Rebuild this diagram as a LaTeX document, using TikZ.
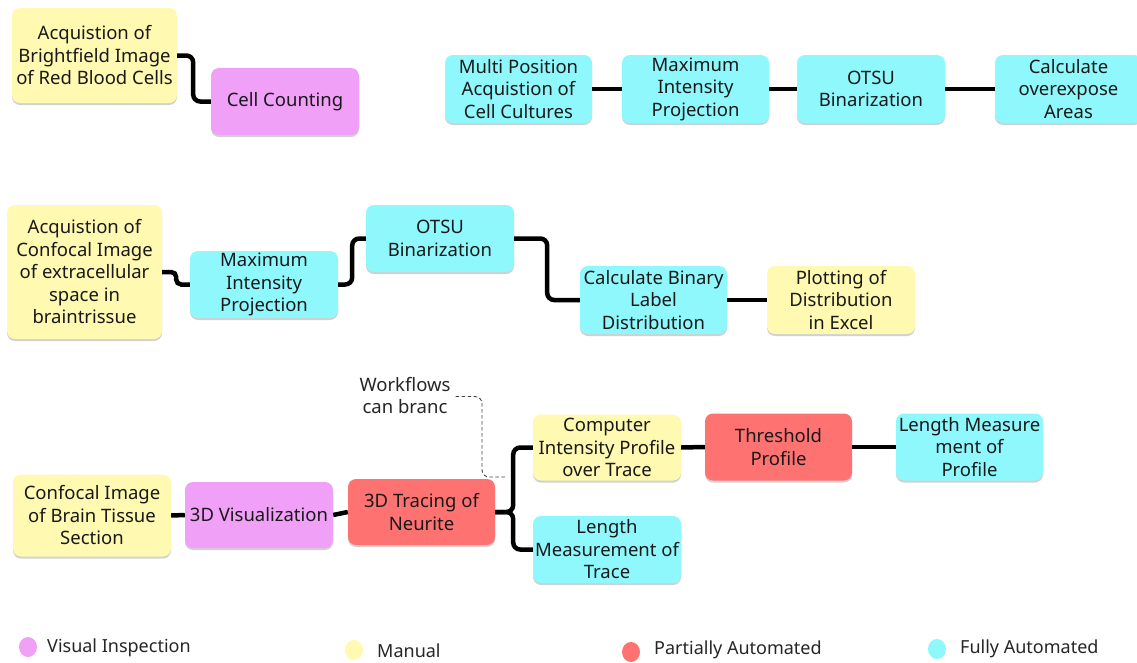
\documentclass[tikz,border=0pt]{standalone}
\usepackage{fontspec}
\setmainfont{Noto Sans}
\usetikzlibrary{shadows,shapes.geometric}
\definecolor{manual}{HTML}{FFF9B1}
\definecolor{visual}{HTML}{F1A0F8}
\definecolor{partial}{HTML}{FF7272}
\definecolor{fully}{HTML}{8FF8FC}
\definecolor{notegray}{HTML}{444444}
\tikzset{
  card/.style={rounded corners=8pt, align=center, inner sep=0pt,
    font=\fontsize{18.5}{22.5}\selectfont, text=black!90,
    drop shadow={shadow xshift=0pt, shadow yshift=-2pt, opacity=0.18, fill=black}},
  man/.style={card, fill=manual},
  vis/.style={card, fill=visual},
  part/.style={card, fill=partial},
  full/.style={card, fill=fully},
  conn/.style={line width=4.5pt, black, rounded corners=7pt},
  notelink/.style={line width=0.9pt, notegray, dash pattern=on 3.5pt off 2.5pt, rounded corners=7pt},
  legdot/.style={ellipse, minimum width=18pt, minimum height=20pt, inner sep=0pt},
  legtext/.style={anchor=west, font=\fontsize{18}{20}\selectfont, text=black!85, inner sep=0pt},
}
\begin{document}
\begin{tikzpicture}[x=1pt, y=-1pt]
\useasboundingbox[fill=white] (0,0) rectangle (1137,662);

% red blood cell counting
\node[man, minimum width=165pt, minimum height=95pt] (rbc) at (94.5,55.5)
  {Acquistion of\\Brightfield Image\\of Red Blood Cells};
\node[vis, minimum width=148pt, minimum height=67pt] (count) at (285,101.5) {Cell Counting};
\draw[conn] (rbc.east) -- ++(16,0) |- (count.west);

% overexposure of cell cultures
\node[full, minimum width=147pt, minimum height=68pt] (multi) at (518.5,89)
  {Multi Position\\Acquistion of\\Cell Cultures};
\node[full, minimum width=147pt, minimum height=68pt] (mipA) at (695.5,89)
  {Maximum\\Intensity\\Projection};
\node[full, minimum width=148pt, minimum height=68pt] (otsuA) at (871,89)
  {OTSU\\Binarization};
\node[full, minimum width=147pt, minimum height=68pt] (over) at (1068.5,89)
  {Calculate\\overexpose\\Areas};
\draw[conn] (multi.east) -- (mipA.west);
\draw[conn] (mipA.east) -- (otsuA.west);
\draw[conn] (otsuA.east) -- (over.west);

% extracellular space
\node[man, minimum width=155pt, minimum height=134pt] (ecs) at (84.5,272)
  {Acquistion of\\Confocal Image\\of extracellular\\space in\\braintrissue};
\node[full, minimum width=148pt, minimum height=67pt] (mipB) at (264,284.5)
  {Maximum\\Intensity\\Projection};
\node[full, minimum width=148pt, minimum height=67pt] (otsuB) at (440,238.5)
  {OTSU\\Binarization};
\node[full, minimum width=147pt, minimum height=68pt] (label) at (653.5,300)
  {Calculate Binary\\Label\\Distribution};
\node[man, minimum width=148pt, minimum height=68pt] (excel) at (841,300)
  {Plotting of\\Distribution\\in Excel};
\draw[conn, rounded corners=5pt] (ecs.east) -- ++(14,0) |- (mipB.west);
\draw[conn] (mipB.east) -- ++(14,0) |- (otsuB.west);
\draw[conn] (otsuB.east) -- ++(33,0) |- (label.west);
\draw[conn] (label.east) -- (excel.west);

% neurite tracing
\node[man, minimum width=158pt, minimum height=82pt] (brain) at (92,515.5)
  {Confocal Image\\of Brain Tissue\\Section};
\node[vis, minimum width=148pt, minimum height=66pt] (view) at (259,515)
  {3D Visualization};
\node[part, minimum width=147pt, minimum height=66pt] (trace) at (421.5,512)
  {3D Tracing of\\Neurite};
\node[man, minimum width=148pt, minimum height=66pt] (profile) at (607,447.5)
  {Computer\\Intensity Profile\\over Trace};
\node[part, minimum width=147pt, minimum height=67pt] (thresh) at (778.5,447)
  {Threshold\\Profile};
\node[full, minimum width=147pt, minimum height=67pt] (lenprof) at (969.5,447)
  {Length Measure\\ment of\\Profile};
\node[full, minimum width=148pt, minimum height=67pt] (lentrace) at (607,549.5)
  {Length\\Measurement of\\Trace};
\draw[conn, rounded corners=0pt] (brain.east) -- (view.west);
\draw[conn, rounded corners=0pt] (view.east) -- (trace.west);
\draw[conn] (trace.east) -- ++(18,0) |- (profile.west);
\draw[conn] (trace.east) -- ++(18,0) |- (lentrace.west);
\draw[conn] (profile.east) -- (thresh.west);
\draw[conn] (thresh.east) -- (lenprof.west);

% branching note
\node[align=center, inner sep=0pt, font=\fontsize{18.5}{22.5}\selectfont, text=black!85]
  (note) at (405,395.5) {Workflows\\can branc};
\coordinate (branch) at (507,477);
\draw[notelink] (note.east) ++(5,1) -- (482,396.5) -- (482,477) -- (branch);

% legend
\node[legdot, fill=visual] (dotV) at (28,647) {};
\node[legtext] (txtV) at (47,648) {Visual Inspection};
\node[legdot, fill=manual] (dotM) at (354,650) {};
\node[legtext] (txtM) at (377,651) {Manual};
\node[legdot, fill=partial] (dotP) at (631,652) {};
\node[legtext] (txtP) at (654,650) {Partially Automated};
\node[legdot, fill=fully] (dotF) at (937,649) {};
\node[legtext] (txtF) at (960,649) {Fully Automated};
\end{tikzpicture}
\end{document}
